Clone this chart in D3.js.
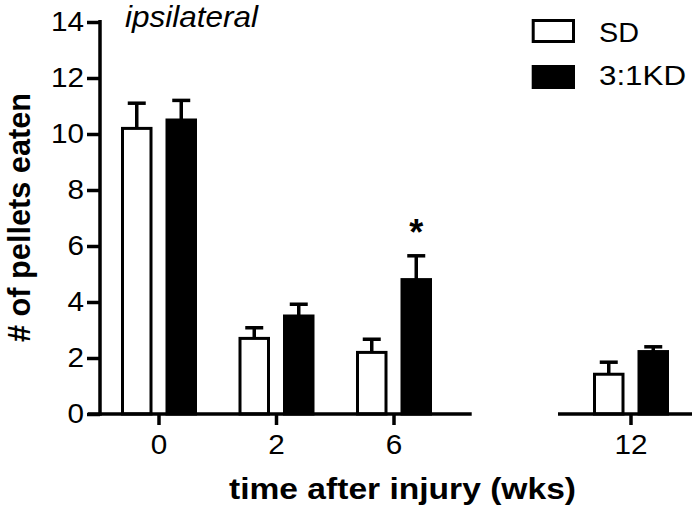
<!DOCTYPE html>
<html><head><meta charset="utf-8">
<script src="https://cdn.jsdelivr.net/npm/d3@7"></script>
<style>body{margin:0;background:#fff} svg{display:block}</style>
</head><body><svg id="c" width="700" height="516"></svg>
<script>
// ---- data ----
const categories = ["0", "2", "6", "12"];
const seriesNames = ["SD", "3:1KD"];
const sdMean = [10.2, 2.7, 2.2, 1.42];
const sdErr = [0.9, 0.38, 0.47, 0.43];
const kdMean = [10.5, 3.5, 4.8, 2.23];
const kdErr = [0.7, 0.42, 0.85, 0.17];
const yTicks = [0, 2, 4, 6, 8, 10, 12, 14];
const segment1 = ["0", "2", "6"];
const segment2 = ["12"];
const significant = ["6"];
const yTitle = "# of pellets eaten";
const xTitle = "time after injury (wks)";
const panelLabel = "ipsilateral";

// ---- drawing ----
const FONT = "'Liberation Sans', Arial, Helvetica, sans-serif";
const svg = d3.select("#c");
const y = d3.scaleLinear().domain([0, 14]).range([414, 22]);
const x1 = d3.scaleBand().domain(segment1).range([100.25, 452.75]);
const x2 = d3.scaleBand().domain(segment2).range([572.25, 689.75]);
const xc = c => (segment1.includes(c) ? x1(c) + x1.bandwidth() / 2 : x2(c) + x2.bandwidth() / 2);
const sub = d3.scalePoint().domain(seriesNames).range([-22.25, 22.25]);
const barW = 28.5;
const LW = 3.5;

const rows = [];
categories.forEach((c, i) => {
  rows.push({ cat: c, s: seriesNames[0], v: sdMean[i], e: sdErr[i] });
  rows.push({ cat: c, s: seriesNames[1], v: kdMean[i], e: kdErr[i] });
});

// bars
const g = svg.append("g");
g.selectAll("rect.bar").data(rows).join("rect")
  .attr("class", "bar")
  .attr("x", d => xc(d.cat) + sub(d.s) - barW / 2)
  .attr("y", d => y(d.v))
  .attr("width", barW)
  .attr("height", d => y(0) - y(d.v))
  .attr("fill", d => d.s === seriesNames[0] ? "#fff" : "#000")
  .attr("stroke", "#000")
  .attr("stroke-width", 3);

// error bars
g.selectAll("line.err").data(rows).join("line")
  .attr("x1", d => xc(d.cat) + sub(d.s)).attr("x2", d => xc(d.cat) + sub(d.s))
  .attr("y1", d => y(d.v)).attr("y2", d => y(d.v + d.e))
  .attr("stroke", "#000").attr("stroke-width", LW);
g.selectAll("line.cap").data(rows).join("line")
  .attr("x1", d => xc(d.cat) + sub(d.s) - 9).attr("x2", d => xc(d.cat) + sub(d.s) + 9)
  .attr("y1", d => y(d.v + d.e)).attr("y2", d => y(d.v + d.e))
  .attr("stroke", "#000").attr("stroke-width", LW);

// significance
rows.filter(d => d.s === seriesNames[1] && significant.includes(d.cat)).forEach(d => {
  svg.append("text").attr("x", xc(d.cat) + sub(d.s)).attr("y", y(d.v + d.e) - 11)
    .attr("text-anchor", "middle").attr("font-family", FONT).attr("font-weight", "bold")
    .attr("font-size", 36).text("*");
});

// y axis
const yAxis = svg.append("g").attr("transform", "translate(100,0)")
  .call(d3.axisLeft(y).tickValues(yTicks).tickSize(13).tickPadding(1.5).tickSizeOuter(0));
yAxis.select(".domain").remove();
yAxis.selectAll(".tick line").attr("stroke-width", LW);
yAxis.selectAll(".tick text").attr("font-size", 27).attr("font-family", FONT)
  .attr("fill", "#000").attr("transform", "scale(1.1,1)");
svg.append("line").attr("x1", 100).attr("x2", 100).attr("y1", y(0) + 1.75).attr("y2", 20)
  .attr("stroke", "#000").attr("stroke-width", LW);

// x axes (broken)
[[x1, 88, 471.7], [x2, 558, 692]].forEach(([sc, a, b]) => {
  const ax = svg.append("g").attr("transform", `translate(0,${y(0)})`)
    .call(d3.axisBottom(sc).tickSize(11).tickPadding(10).tickSizeOuter(0));
  ax.select(".domain").remove();
  ax.selectAll(".tick line").attr("stroke-width", LW);
  ax.selectAll(".tick text").attr("font-size", 27).attr("font-family", FONT)
    .attr("fill", "#000").attr("transform", "scale(1.1,1)");
  svg.append("line").attr("x1", a).attr("x2", b).attr("y1", y(0)).attr("y2", y(0))
    .attr("stroke", "#000").attr("stroke-width", LW);
});

// titles
svg.append("text").attr("x", 402.5).attr("y", 499).attr("text-anchor", "middle")
  .attr("font-family", FONT).attr("font-weight", "bold").attr("font-size", 30)
  .attr("textLength", 347).attr("lengthAdjust", "spacingAndGlyphs").text(xTitle);
svg.append("text").attr("transform", "translate(30,217.5) rotate(-90)").attr("text-anchor", "middle")
  .attr("font-family", FONT).attr("font-weight", "bold").attr("font-size", 31)
  .attr("textLength", 249).attr("lengthAdjust", "spacingAndGlyphs").text(yTitle);
svg.append("text").attr("x", 125).attr("y", 27)
  .attr("font-family", FONT).attr("font-style", "italic").attr("font-size", 29)
  .attr("textLength", 133).attr("lengthAdjust", "spacingAndGlyphs").text(panelLabel);

// legend
const leg = [
  { name: seriesNames[0], fill: "#fff", by: 19, ty: 41.7, tl: 40 },
  { name: seriesNames[1], fill: "#000", by: 65, ty: 85, tl: 87 }
];
leg.forEach(l => {
  svg.append("rect").attr("x", 533.2).attr("y", l.by + 1.5).attr("width", 40.3).attr("height", 21)
    .attr("fill", l.fill).attr("stroke", "#000").attr("stroke-width", 3);
  svg.append("text").attr("x", 599).attr("y", l.ty).attr("font-family", FONT).attr("font-size", 28)
    .attr("textLength", l.tl).attr("lengthAdjust", "spacingAndGlyphs").text(l.name);
});
</script></body></html>
